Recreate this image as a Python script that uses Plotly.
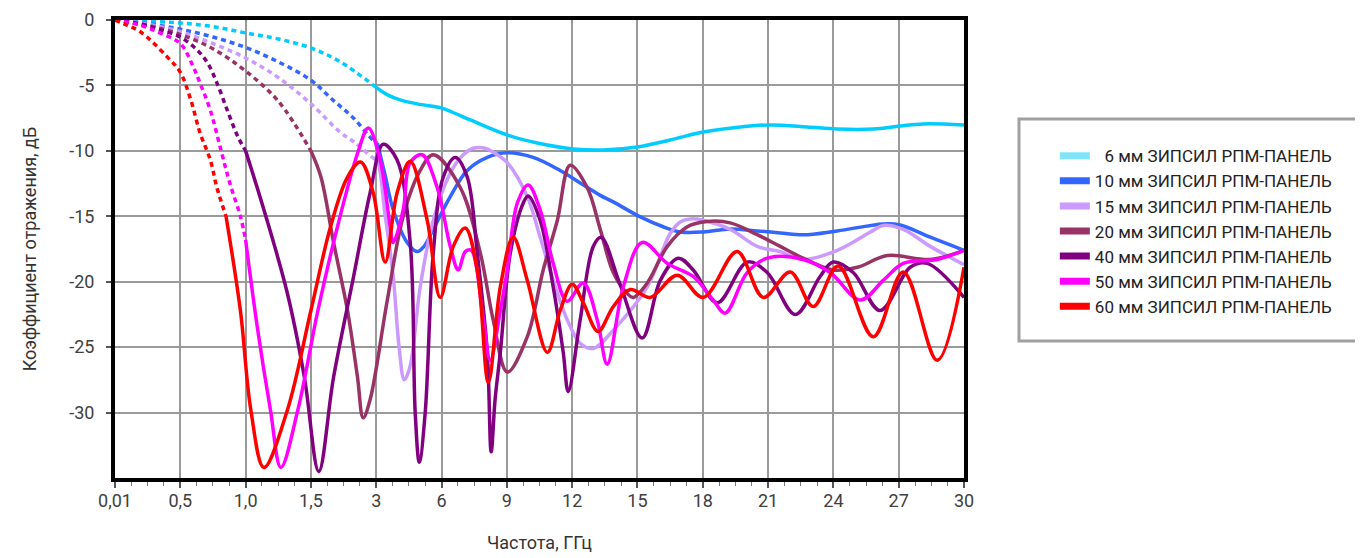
import numpy as np
import plotly.graph_objects as go

# ---- axis definitions ----
tick_freqs = [0.01, 0.5, 1.0, 1.5, 3, 6, 9, 12, 15, 18, 21, 24, 27, 30]
tick_labels = ["0,01", "0,5", "1,0", "1,5", "3", "6", "9", "12", "15", "18", "21", "24", "27", "30"]
y_ticks = [0, -5, -10, -15, -20, -25, -30]

names = ["\u20076 мм ЗИПСИЛ РПМ-ПАНЕЛЬ", "10 мм ЗИПСИЛ РПМ-ПАНЕЛЬ", "15 мм ЗИПСИЛ РПМ-ПАНЕЛЬ",
         "20 мм ЗИПСИЛ РПМ-ПАНЕЛЬ", "40 мм ЗИПСИЛ РПМ-ПАНЕЛЬ", "50 мм ЗИПСИЛ РПМ-ПАНЕЛЬ",
         "60 мм ЗИПСИЛ РПМ-ПАНЕЛЬ"]
colors = ["#00CCFF", "#3366FF", "#CC99FF", "#993366", "#800080", "#FF00FF", "#FF0000"]
legend_colors = ["#80E4FA", "#3366FF", "#CC99FF", "#993366", "#800080", "#FF00FF", "#FF0000"]

# ---- 6 mm ----
f6_dash = [0.01, 0.27, 0.5, 0.75, 1.0, 1.25, 1.5, 2.18, 2.93]
db6_dash = [0, -0.1, -0.23, -0.5, -0.99, -1.45, -2.14, -3.21, -4.97]
f6 = [2.93, 3.5, 4.1, 5.0, 5.94, 6.5, 7.32, 9.02, 10.4, 12.05, 13.43, 14.99, 16.5, 18.02,
      19.72, 21.1, 22.8, 24.18, 25.83, 27.07, 28.13, 30]
db6 = [-4.97, -5.7, -6.11, -6.45, -6.7, -7.05, -7.64, -8.79, -9.4, -9.85, -9.93, -9.7, -9.17,
       -8.56, -8.17, -8.02, -8.17, -8.33, -8.33, -8.1, -7.94, -8.02]

# ---- 10 mm ----
f10_dash = [0.01, 0.27, 0.5, 0.75, 1.0, 1.25, 1.5, 2.0, 2.48, 2.93, 3.05]
db10_dash = [0, -0.3, -0.7, -1.3, -2.1, -3.2, -4.6, -6.1, -7.5, -9.2, -9.4]
f10 = [3.05, 3.4, 3.78, 4.42, 4.88, 5.2, 5.62, 6.4, 7.18, 8.1, 9.02, 10.21, 11.45, 12.37,
       13.29, 13.89, 15.13, 16.18, 16.97, 18.02, 19.26, 20.5, 21.56, 22.61, 24.18, 26.29,
       27.07, 28.45, 30]
db10 = [-9.4, -11.8, -14.5, -17.0, -17.7, -17.3, -16.0, -13.5, -11.5, -10.5, -10.15, -10.5,
        -11.5, -12.45, -13.4, -13.9, -15.05, -15.8, -16.2, -16.2, -15.97, -16.12, -16.27,
        -16.42, -16.12, -15.58, -15.66, -16.6, -17.6]

# ---- 15 mm ----
f15_dash = [0.01, 0.27, 0.5, 0.75, 1.0, 1.25, 1.5, 2.18, 2.48, 2.91]
db15_dash = [0, -0.35, -0.9, -1.8, -2.9, -4.4, -6.4, -8.6, -9.3, -10.5]
f15 = [2.91, 3.05, 3.4, 3.78, 4.05, 4.29, 4.55, 5.02, 5.62, 6.4, 7.0, 7.46, 8.0, 8.37, 9.02,
       9.94, 10.53, 11.13, 11.77, 12.37, 12.97, 13.89, 15.45, 16.51, 17.0, 17.43, 18.02,
       19.26, 20.5, 21.56, 22.61, 24.18, 25.7, 26.29, 27.21, 28.45, 30]
db15 = [-10.5, -10.8, -14.8, -19.6, -25.0, -27.5, -26.5, -20.4, -15.3, -11.7, -10.3, -9.8,
        -9.8, -10.1, -10.9, -13.5, -16.6, -19.9, -22.9, -24.7, -25.1, -23.7, -20.4, -16.3,
        -15.4, -15.2, -15.3, -16.0, -17.3, -17.7, -18.3, -17.6, -16.2, -15.7, -16.0, -17.3, -18.7]

# ---- 20 mm ----
f20_dash = [0.01, 0.27, 0.5, 0.75, 1.0, 1.25, 1.5]
db20_dash = [0, -0.45, -1.1, -2.2, -3.9, -6.2, -10.0]
f20 = [1.5, 1.73, 2.02, 2.34, 2.57, 2.7, 2.86, 3.51, 4.24, 5.02, 5.62, 6.86, 7.78, 8.37,
       9.02, 9.94, 10.67, 11.32, 11.91, 12.69, 13.29, 13.89, 14.53, 14.81, 15.45, 16.37,
       17.29, 18.21, 19.26, 20.5, 21.56, 22.61, 23.99, 25.1, 26.48, 28.45, 30]
db20 = [-10.0, -12.0, -17.0, -22.2, -27.3, -30.4, -29.0, -21.4, -15.0, -11.5, -10.3, -12.8,
        -17.8, -22.9, -26.9, -24.2, -19.1, -15.3, -11.1, -12.8, -16.0, -19.3, -20.9, -21.2,
        -20.1, -17.3, -15.8, -15.4, -15.5, -16.4, -17.3, -18.2, -19.1, -18.9, -18.0, -18.3, -17.6]

# ---- 40 mm ----
f40_dash = [0.01, 0.2, 0.35, 0.5, 0.63, 0.71, 0.78, 0.86, 0.94, 1.0]
db40_dash = [0, -0.3, -0.76, -1.3, -2.3, -3.3, -4.8, -6.9, -8.9, -10.0]
f40 = [1.0, 1.14, 1.32, 1.45, 1.68, 2.02, 2.48, 2.86, 3.32, 3.96, 4.56, 4.79, 4.98, 5.25,
       5.62, 6.08, 6.63, 7.18, 7.64, 8.1, 8.28, 8.46, 8.7, 9.16, 9.75, 9.98, 10.53, 11.13,
       11.59, 11.82, 12.37, 12.97, 13.33, 14.2, 15.22, 16.05, 16.87, 17.56, 18.67, 20.04,
       20.96, 22.25, 23.39, 23.99, 24.91, 26.15, 27.53, 28.31, 30]
db40 = [-10.0, -14.5, -20.9, -27.3, -34.5, -27.3, -19.6, -13.2, -9.5, -10.7, -17.0, -30.0,
        -33.8, -30.0, -17.8, -12.0, -10.5, -12.0, -17.8, -25.4, -33.0, -29.0, -25.4, -17.8,
        -14.0, -13.45, -15.3, -20.4, -25.4, -28.4, -22.9, -17.3, -16.6, -20.2, -24.3, -19.9,
        -18.2, -19.1, -21.6, -18.5, -19.3, -22.5, -19.6, -18.5, -19.3, -22.2, -18.9, -18.6, -21.2]

# ---- 50 mm ----
f50_dash = [0.01, 0.2, 0.35, 0.5, 0.6, 0.65, 0.73, 0.81, 0.88, 0.96, 1.0]
db50_dash = [0, -0.4, -1.0, -1.8, -3.6, -4.8, -6.9, -9.9, -12.5, -15.0, -16.8]
f50 = [1.0, 1.09, 1.19, 1.27, 1.4, 1.66, 2.11, 2.57, 2.82, 3.18, 3.64, 3.78, 4.24, 4.56,
       5.11, 5.8, 6.4, 6.77, 7.09, 7.37, 7.92, 8.24, 8.7, 9.02, 9.48, 9.98, 10.53, 11.13,
       11.77, 12.51, 13.15, 13.61, 14.35, 15.22, 16.37, 17.56, 18.48, 19.03, 20.04, 20.96,
       22.61, 23.85, 25.24, 26.29, 27.21, 28.77, 30]
db50 = [-16.8, -23.5, -29.8, -34.2, -29.8, -22.2, -15.8, -10.2, -8.25, -10.7, -15.8, -17.0,
        -14.5, -10.9, -10.3, -12.8, -17.3, -19.1, -17.7, -17.6, -22.9, -26.0, -22.2, -19.1,
        -14.0, -12.6, -14.5, -18.6, -21.5, -20.1, -22.9, -26.3, -20.4, -17.0, -18.6, -19.6,
        -21.4, -22.4, -19.3, -18.2, -18.3, -19.3, -21.4, -19.9, -18.6, -18.3, -17.6]

# ---- 60 mm ----
f60_dash = [0.01, 0.1, 0.2, 0.4, 0.5, 0.58, 0.65, 0.73, 0.78, 0.85]
db60_dash = [0, -0.4, -0.9, -2.8, -4.0, -6.1, -8.6, -10.7, -12.8, -15.0]
f60 = [0.85, 0.96, 1.04, 1.14, 1.32, 1.5, 1.95, 2.34, 2.64, 2.93, 3.41, 3.96, 4.56, 5.34,
       5.94, 6.54, 7.09, 7.64, 8.15, 8.7, 9.29, 9.94, 10.86, 11.45, 12.0, 12.51, 13.19, 13.89,
       14.67, 15.59, 16.83, 18.02, 19.58, 20.78, 22.02, 23.07, 24.22, 25.83, 27.21, 28.77, 30]
db60 = [-15.0, -22.2, -29.8, -34.2, -29.8, -22.2, -15.8, -12.0, -10.85, -13.2, -18.5, -13.2,
        -10.8, -15.3, -21.2, -17.3, -15.9, -19.1, -27.7, -20.4, -16.6, -19.9, -25.4, -22.2,
        -20.2, -21.6, -23.8, -21.9, -20.6, -21.2, -19.5, -21.2, -17.7, -21.2, -19.25, -21.9,
        -18.8, -24.2, -19.25, -26.0, -18.9]

dash_data = [(f6_dash, db6_dash), (f10_dash, db10_dash), (f15_dash, db15_dash), (f20_dash, db20_dash),
             (f40_dash, db40_dash), (f50_dash, db50_dash), (f60_dash, db60_dash)]
solid_data = [(f6, db6), (f10, db10), (f15, db15), (f20, db20), (f40, db40), (f50, db50), (f60, db60)]

tick_pos = np.arange(len(tick_freqs))


def to_axis(freqs):
    """Map frequency (GHz) onto the chart's piecewise frequency scale."""
    return np.interp(freqs, tick_freqs, tick_pos)


fig = go.Figure()
for i in range(len(names)):
    fd, dd = dash_data[i]
    fs, ds = solid_data[i]
    fig.add_trace(go.Scatter(x=to_axis(fd), y=dd, mode="lines", showlegend=False,
                             line=dict(color=colors[i], width=3.5, dash="5px,4px", shape="spline"),
                             hoverinfo="skip"))
    fig.add_trace(go.Scatter(x=to_axis(fs), y=ds, mode="lines", showlegend=False,
                             line=dict(color=colors[i], width=3.5, shape="spline"),
                             name=names[i]))
    fig.add_trace(go.Scatter(x=[None], y=[None], mode="lines", name=names[i],
                             legendgroup="g%d" % i,
                             line=dict(color=legend_colors[i], width=7)))

font_family = "Roboto, 'Open Sans', sans-serif"

W, H = 1355, 550          # page body adds an 8px margin on the left/top
PL, PT, PW, PH = 107, 12, 849, 458

fig.update_layout(
    width=W, height=H,
    margin=dict(l=PL, r=W - PL - PW, t=PT, b=H - PT - PH, autoexpand=False),
    paper_bgcolor="white", plot_bgcolor="white",
    font=dict(family=font_family, color="#333333"),
    showlegend=True,
    legend=dict(x=1.107, y=0.742, xanchor="left", yanchor="top",
                font=dict(size=17, color="#222222", family=font_family),
                bgcolor="rgba(0,0,0,0)", borderwidth=0, tracegroupgap=6,
                traceorder="normal"),
    xaxis=dict(range=[0, 13], tickmode="array", tickvals=list(tick_pos), ticktext=tick_labels,
               automargin=False,
               showgrid=True, gridcolor="#9A9A9A", gridwidth=1.5,
               showline=True, linecolor="black", linewidth=4, mirror=True,
               ticks="outside", ticklen=6, tickwidth=1.5, tickcolor="#555555",
               ticklabelstandoff=-3,
               minor=dict(dtick=0.25, tick0=0, ticks="outside", ticklen=4, tickcolor="#777777",
                          tickwidth=1, showgrid=False),
               tickfont=dict(size=18, color="#404040"),
               title=dict(text="Частота, ГГц", font=dict(size=18, color="#333333"), standoff=28),
               zeroline=False),
    yaxis=dict(range=[-35, 0], tickmode="array", tickvals=y_ticks,
               ticktext=[str(v) for v in y_ticks],
               automargin=False,
               showgrid=True, gridcolor="#9A9A9A", gridwidth=1.5,
               showline=True, linecolor="black", linewidth=4, mirror=True,
               ticks="outside", ticklen=5, tickwidth=1.5, tickcolor="#555555",
               ticklabelstandoff=8,
               tickfont=dict(size=18, color="#404040"),
               title=dict(text="Коэффициент отражения, дБ", font=dict(size=18, color="#333333"),
                          standoff=29),
               zeroline=False),
    shapes=[dict(type="rect", xref="paper", yref="paper",
                 x0=(1019 - 115) / PW, x1=(1361 - 115) / PW,
                 y0=1 - (341 - 20) / PH, y1=1 - (119 - 20) / PH,
                 line=dict(color="#A0A0A0", width=3), fillcolor="rgba(0,0,0,0)")],
)

fig.write_html("out.html")
